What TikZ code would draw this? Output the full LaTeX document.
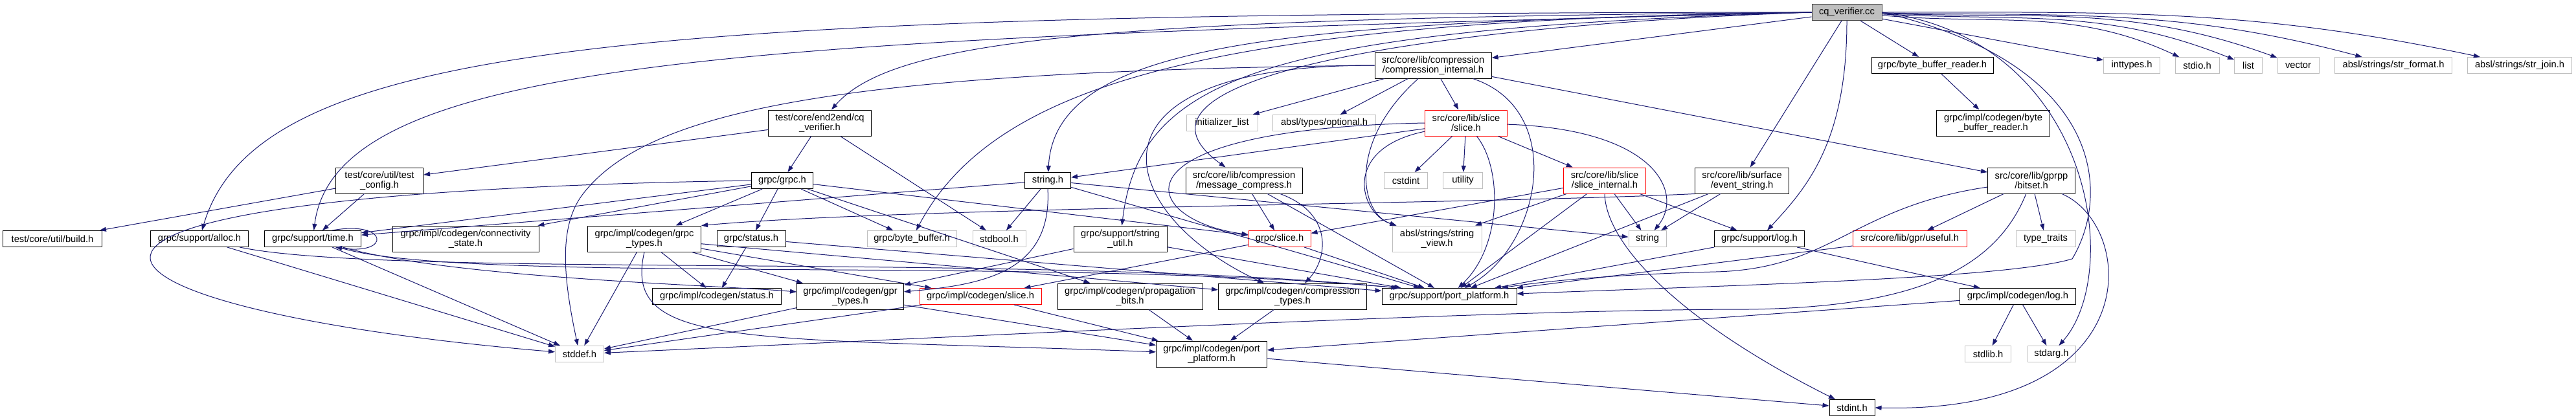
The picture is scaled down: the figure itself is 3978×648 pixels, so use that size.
\documentclass[tikz,border=0pt]{standalone}
\usepackage{fontspec}
\setmainfont{Liberation Sans}
\usetikzlibrary{arrows.meta}
\definecolor{edgeblue}{HTML}{191970}
\definecolor{boxgray}{HTML}{BFBFBF}
\definecolor{boxdark}{HTML}{404040}
\tikzset{every node/.style={font=\fontsize{14.7}{15}\selectfont, align=center, inner xsep=4pt, inner ysep=0pt, minimum height=25pt},
  hdr/.style={draw=black, line width=1pt, fill=white},
  sys/.style={draw=boxgray, line width=1pt, fill=white},
  trunc/.style={draw=red, line width=1pt, fill=white},
  root/.style={draw=boxdark, line width=1pt, fill=boxgray},
  two/.style={minimum height=40pt},
  dep/.style={draw=edgeblue, line width=1pt, -{Triangle[length=10pt,width=7pt]}}}

\begin{document}
\begin{tikzpicture}[x=1pt,y=-1pt]
  \useasboundingbox (0,0) rectangle (3978,648);
  % files
  \node[root,minimum width=108pt] (cc) at (2852,19) {cq\_verifier.cc};
  \node[hdr,two,minimum width=159pt] (cqv) at (1266,190) {test/core/end2end/cq\\\_verifier.h};
  \node[hdr,two,minimum width=135pt] (tcfg) at (586,279) {test/core/util/test\\\_config.h};
  \node[hdr,minimum width=153pt] (build) at (81,369) {test/core/util/build.h};
  \node[hdr,minimum width=151pt] (alloc) at (308,369) {grpc/support/alloc.h};
  \node[hdr,minimum width=149pt] (time) at (483,369) {grpc/support/time.h};
  \node[hdr,two,minimum width=226pt] (conn) at (719,369) {grpc/impl/codegen/connectivity\\\_state.h};
  \node[hdr,minimum width=95pt] (grpch) at (1208,279) {grpc/grpc.h};
  \node[hdr,two,minimum width=175pt] (gtypes) at (995,369) {grpc/impl/codegen/grpc\\\_types.h};
  \node[hdr,minimum width=106pt] (status) at (1160,369) {grpc/status.h};
  \node[hdr,minimum width=199pt] (cstatus) at (1107,458) {grpc/impl/codegen/status.h};
  \node[hdr,two,minimum width=165pt] (gprt) at (1313,458) {grpc/impl/codegen/gpr\\\_types.h};
  \node[sys,minimum width=75pt] (stddef) at (895,547) {stddef.h};
  \node[sys,minimum width=138pt] (bbuf) at (1408,369) {grpc/byte\_buffer.h};
  \node[sys,minimum width=82pt] (stdbool) at (1543,369) {stdbool.h};
  \node[hdr,minimum width=71pt] (strh) at (1618,279) {string.h};
  \node[hdr,two,minimum width=144pt] (strutil) at (1730,369) {grpc/support/string\\\_util.h};
  \node[trunc,minimum width=96pt] (gslice) at (1976,369) {grpc/slice.h};
  \node[trunc,minimum width=188pt] (cslice) at (1514,458) {grpc/impl/codegen/slice.h};
  \node[hdr,two,minimum width=224pt] (prop) at (1745,458) {grpc/impl/codegen/propagation\\\_bits.h};
  \node[hdr,two,minimum width=229pt] (ctypes) at (1996,458) {grpc/impl/codegen/compression\\\_types.h};
  \node[hdr,two,minimum width=171pt] (cport) at (1871,547) {grpc/impl/codegen/port\\\_platform.h};
  \node[sys,minimum width=110pt] (initl) at (1887,190) {initializer\_list};
  \node[hdr,two,minimum width=180pt] (msgc) at (1921,279) {src/core/lib/compression\\/message\_compress.h};
  \node[sys,minimum width=159pt] (optional) at (2045,190) {absl/types/optional.h};
  \node[hdr,two,minimum width=180pt] (ci) at (2213,101) {src/core/lib/compression\\/compression\_internal.h};
  \node[trunc,two,minimum width=127pt] (slice) at (2264,190) {src/core/lib/slice\\/slice.h};
  \node[sys,minimum width=67pt] (cstdint) at (2171,279) {cstdint};
  \node[sys,minimum width=61pt] (utility) at (2259,279) {utility};
  \node[trunc,two,minimum width=127pt] (sint) at (2478,279) {src/core/lib/slice\\/slice\_internal.h};
  \node[hdr,two,minimum width=145pt] (evs) at (2690,279) {src/core/lib/surface\\/event\_string.h};
  \node[sys,two,minimum width=138pt] (sview) at (2219,369) {absl/strings/string\\\_view.h};
  \node[sys,minimum width=58pt] (string) at (2544,369) {string};
  \node[hdr,minimum width=208pt] (sport) at (2238,458) {grpc/support/port\_platform.h};
  \node[hdr,minimum width=139pt] (log) at (2717,369) {grpc/support/log.h};
  \node[trunc,minimum width=176pt] (useful) at (2949,369) {src/core/lib/gpr/useful.h};
  \node[sys,minimum width=92pt] (ttraits) at (3159,369) {type\_traits};
  \node[hdr,minimum width=179pt] (clog) at (3116,458) {grpc/impl/codegen/log.h};
  \node[sys,minimum width=71pt] (stdlib) at (3070,547) {stdlib.h};
  \node[sys,minimum width=74pt] (stdarg) at (3168,547) {stdarg.h};
  \node[hdr,minimum width=70pt] (stdint) at (2860,630) {stdint.h};
  \node[hdr,minimum width=188pt] (bbr) at (2984,101) {grpc/byte\_buffer\_reader.h};
  \node[hdr,two,minimum width=175pt] (cbbr) at (3078,190) {grpc/impl/codegen/byte\\\_buffer\_reader.h};
  \node[hdr,two,minimum width=135pt] (bitset) at (3137,279) {src/core/lib/gprpp\\/bitset.h};
  \node[sys,minimum width=87pt] (inttypes) at (3292,101) {inttypes.h};
  \node[sys,minimum width=68pt] (stdio) at (3393,101) {stdio.h};
  \node[sys,minimum width=43pt] (list) at (3472,101) {list};
  \node[sys,minimum width=64pt] (vector) at (3549,101) {vector};
  \node[sys,minimum width=181pt] (strfmt) at (3696,101) {absl/strings/str\_format.h};
  \node[sys,minimum width=161pt] (strjoin) at (3891,101) {absl/strings/str\_join.h};
  % includes of cq_verifier.cc
  \draw[dep] (cc) -- (inttypes);
  \draw[dep] (cc) to[out=-5,in=155] (stdio);
  \draw[dep] (cc) to[out=-3,in=158] (list);
  \draw[dep] (cc) to[out=-2,in=160] (vector);
  \draw[dep] (cc) to[out=-1,in=165] (strfmt);
  \draw[dep] (cc) to[out=0,in=168] (strjoin);
  \draw[dep] (cc) -- (bbr);
  \draw[dep] (bbr) -- (cbbr);
  \draw[dep] (cc) -- (ci);
  \draw[dep] (cc) -- (evs);
  \draw[dep] (cc.west) .. controls (1700,28) and (1380,60) .. (cqv);
  \draw[dep] (cc.west) .. controls (2000,35) and (1630,60) .. (strh);
  \draw[dep] (cc.west) .. controls (2200,40) and (1700,120) .. (msgc);
  \draw[dep] (cc.west) .. controls (1900,30) and (1540,120) .. (bbuf);
  \draw[dep] (cc.west) .. controls (1950,45) and (1760,120) .. (strutil);
  \draw[dep] (cc.west) .. controls (1000,20) and (400,60) .. (alloc);
  \draw[dep] (cc.west) .. controls (1200,60) and (520,80) .. (time);
  \draw[dep] (cc.south) .. controls (2852,220) and (2790,290) .. (log);
  \draw[dep] (cc.east) .. controls (3230,60) and (3280,420) .. (stdarg);
  \draw[dep] (cc.east) .. controls (3250,100) and (3260,300) .. (3200,400)
    .. controls (3100,430) and (2700,440) .. (sport);
  % test headers
  \draw[dep] (cqv) -- (tcfg);
  \draw[dep] (cqv) -- (grpch);
  \draw[dep] (cqv) -- (stdbool);
  \draw[dep] (tcfg) -- (build);
  \draw[dep] (tcfg) -- (time);
  % grpc.h
  \draw[dep] (grpch) -- (conn);
  \draw[dep] (grpch) -- (gtypes);
  \draw[dep] (grpch) -- (status);
  \draw[dep] (grpch) -- (bbuf);
  \draw[dep] (grpch) -- (gslice);
  \draw[dep] (grpch) -- (prop);
  \draw[dep] (grpch) -- (time);
  \draw[dep] (grpch.west) .. controls (-150,300) and (100,480) .. (stddef);
  \draw[dep] (gtypes) -- (stddef);
  \draw[dep] (gtypes.south) .. controls (960,540) and (1150,520) .. (cport);
  \draw[dep] (gtypes) -- (cstatus);
  \draw[dep] (gtypes) -- (gprt);
  \draw[dep] (gtypes) -- (cslice);
  \draw[dep] (gtypes) -- (ctypes);
  \draw[dep] (status) -- (cstatus);
  \draw[dep] (status) -- (sport);
  \draw[dep] (gprt) -- (stddef);
  \draw[dep] (gprt) -- (cport);
  \draw[dep] (cslice) -- (stddef);
  \draw[dep] (cslice) -- (cport);
  \draw[dep] (prop) -- (cport);
  \draw[dep] (ctypes) -- (cport);
  \draw[dep] (cport) -- (stdint);
  % string.h
  \draw[dep] (strh) -- (stdbool);
  \draw[dep] (strh.south) .. controls (1625,420) and (1520,440) .. (gprt);
  \draw[dep] (strh) -- (sport);
  \draw[dep] (strh) -- (string);
  \draw[dep] (strh) -- (time);
  % support headers
  \draw[dep] (alloc) -- (stddef);
  \draw[dep] (alloc) .. controls (600,430) and (1600,390) .. ([xshift=25pt]sport.north west);
  \draw[dep] (time) .. controls (700,440) and (1600,395) .. ([xshift=28pt]sport.north west);
  \draw[dep] (time) .. controls (700,430) and (1100,440) .. (gprt);
  \draw[dep] (time) -- (stddef);
  \draw[dep] ([xshift=30pt]time.north) .. controls (600,340) and (605,395) .. ([xshift=35pt]time.south);
  \draw[dep] (strutil) -- (gprt);
  \draw[dep] (strutil) -- (sport);
  \draw[dep] (gslice) -- (cslice);
  \draw[dep] (gslice) -- (sport);
  % compression
  \draw[dep] (msgc) -- (gslice);
  \draw[dep] (msgc) -- (sport);
  \draw[dep] (msgc) .. controls (2060,330) and (2050,400) .. (ctypes);
  \draw[dep] (ci) -- (initl);
  \draw[dep] (ci) -- (optional);
  \draw[dep] (ci) -- (slice);
  \draw[dep] (ci) .. controls (2080,220) and (2100,330) .. (sview);
  \draw[dep] (ci) .. controls (2420,170) and (2380,380) .. (sport);
  \draw[dep] (ci) -- (bitset);
  \draw[dep] (ci.west) .. controls (1300,110) and (1000,170) .. (900,300)
    .. controls (862,350) and (870,430) .. (stddef);
  \draw[dep] (ci.west) .. controls (1650,100) and (1720,330) .. (ctypes);
  % slice
  \draw[dep] (slice) -- (cstdint);
  \draw[dep] (slice) -- (utility);
  \draw[dep] (slice) -- (sint);
  \draw[dep] (slice) .. controls (2320,260) and (2320,380) .. (sport);
  \draw[dep] (slice) .. controls (2560,200) and (2600,300) .. (string);
  \draw[dep] (slice) .. controls (2070,230) and (2100,330) .. (sview);
  \draw[dep] (slice) -- (strh);
  \draw[dep] (slice.west) .. controls (1700,200) and (1760,340) .. (gslice);
  \draw[dep] (sint) -- (gslice);
  \draw[dep] (sint) -- (sview);
  \draw[dep] (sint) -- (sport);
  \draw[dep] (sint) -- (string);
  \draw[dep] (sint) -- (log);
  \draw[dep] (sint.south) .. controls (2480,380) and (2600,500) .. (stdint);
  % surface, log, gprpp
  \draw[dep] (evs) -- (string);
  \draw[dep] (evs) -- (sport);
  \draw[dep] (evs.south west) .. controls (2300,315) and (1400,320) .. (gtypes.north east);
  \draw[dep] (log) -- (clog);
  \draw[dep] (log) -- (sport);
  \draw[dep] (clog) -- (stdlib);
  \draw[dep] (clog) -- (stdarg);
  \draw[dep] (clog) -- (cport);
  \draw[dep] (useful) -- (sport);
  \draw[dep] (bitset) -- (useful);
  \draw[dep] (bitset) -- (ttraits);
  \draw[dep] (bitset) .. controls (3080,420) and (2950,475) .. (2700,478)
    .. controls (2300,478) and (1500,520) .. (stddef);
  \draw[dep] (bitset) .. controls (3300,350) and (3320,640) .. (stdint.east);
  \draw[dep] (bitset) .. controls (2860,320) and (2830,415) .. (2650,420)
    .. controls (2450,425) and (2350,440) .. (sport);
\end{tikzpicture}
\end{document}
